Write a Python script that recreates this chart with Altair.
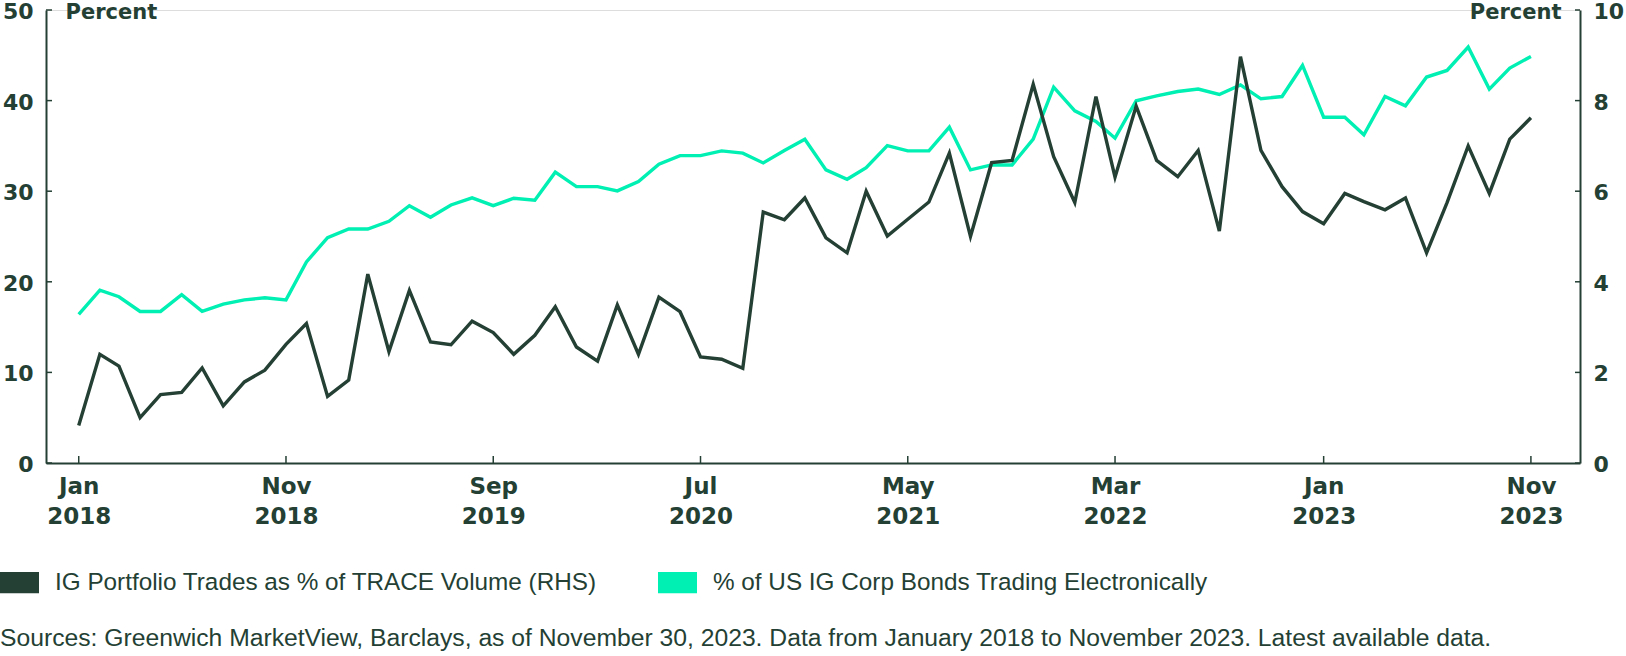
import altair as alt
import pandas as pd

months = pd.date_range("2018-01-01", periods=71, freq="MS").strftime("%Y-%m-%d").tolist()

electronic_pct = [
    16.4, 19.07, 18.35, 16.73, 16.73, 18.57, 16.73, 17.54, 18.0, 18.24,
    18.0, 22.2, 24.87, 25.83, 25.83, 26.68, 28.4, 27.12, 28.48, 29.26,
    28.4, 29.22, 29.0, 32.1, 30.5, 30.5, 30.03, 31.06, 32.98, 33.93,
    33.93, 34.45, 34.2, 33.12, 34.49, 35.74, 32.35, 31.32, 32.6, 35.04,
    34.45, 34.45, 37.07, 32.35, 32.9, 32.9, 35.74, 41.49, 38.87, 37.69,
    35.85, 39.98, 40.53, 41.0, 41.27, 40.68, 41.74, 40.2, 40.45, 43.88,
    38.17, 38.17, 36.22, 40.45, 39.42, 42.6, 43.33, 45.91, 41.27, 43.59,
    44.87,
]

portfolio_pct = [
    0.83, 2.4, 2.14, 1.0, 1.51, 1.56, 2.1, 1.26, 1.79, 2.05,
    2.62, 3.08, 1.47, 1.83, 4.17, 2.46, 3.81, 2.67, 2.61, 3.13,
    2.88, 2.4, 2.82, 3.45, 2.56, 2.25, 3.49, 2.4, 3.66, 3.34,
    2.34, 2.29, 2.09, 5.54, 5.37, 5.85, 4.97, 4.64, 6.0, 5.01,
    5.38, 5.76, 6.84, 5.0, 6.63, 6.68, 8.36, 6.76, 5.75, 8.09,
    6.31, 7.88, 6.68, 6.32, 6.9, 5.12, 8.97, 6.9, 6.1, 5.55,
    5.28, 5.95, 5.77, 5.59, 5.85, 4.64, 5.75, 7.0, 5.95, 7.15,
    7.62,
]

tick_dates = ["2018-01-01", "2018-11-01", "2019-09-01", "2020-07-01",
              "2021-05-01", "2022-03-01", "2023-01-01", "2023-11-01"]
left_ticks = [0, 10, 20, 30, 40, 50]
right_ticks = [0, 2, 4, 6, 8, 10]

series_names = ["IG Portfolio Trades as % of TRACE Volume (RHS)",
                "% of US IG Corp Bonds Trading Electronically"]
series_colors = ["#243F34", "#00EFB2"]

source_text = ("Sources: Greenwich MarketView, Barclays, as of November 30, 2023. "
               "Data from January 2018 to November 2023. Latest available data.")

DARK = "#243F34"
W, H = 1534, 453
BOLD = "DejaVu Sans"
REG = "Liberation Sans"


def ms(s):
    return int(pd.Timestamp(s, tz="UTC").value // 10**6)


df = pd.DataFrame({"date": months, "elec": electronic_pct, "port": portfolio_pct})
ticks_x_df = pd.DataFrame({"date": tick_dates})
ticks_l_df = pd.DataFrame({"v": left_ticks})
ticks_r_df = pd.DataFrame({"v": right_ticks})
legend_df = pd.DataFrame({"series": series_names, "date": [months[0], months[0]]})
note_df = pd.DataFrame({"note": [source_text]})

x_scale = alt.Scale(type="utc", domain=[ms("2017-11-14"), ms("2024-01-12")])
x_axis = alt.Axis(
    values=[ms(d) for d in tick_dates],
    labelExpr="[utcFormat(datum.value, '%b'), utcFormat(datum.value, '%Y')]",
    title=None, grid=False, ticks=False, tickSize=0,
    domainColor=DARK, domainWidth=2,
    labelFont=BOLD, labelFontWeight="bold", labelFontSize=23, labelColor=DARK,
    labelPadding=12, labelLineHeight=30, labelAlign="center", labelBaseline="top",
    labelOverlap=False, labelFlush=False,
)


def y_axis(orient, values, title_x, title_align):
    return alt.Axis(orient=orient, values=values, grid=False, ticks=False, tickSize=0,
                    domainColor=DARK, domainWidth=2,
                    labelFont=BOLD, labelFontWeight="bold", labelFontSize=22,
                    labelColor=DARK, labelPadding=13, labelOverlap=False, labelFlush=False,
                    labelOffset=1.5,
                    title="Percent", titleAngle=0, titleX=title_x, titleY=2,
                    titleAlign=title_align, titleBaseline="middle",
                    titleFont=BOLD, titleFontWeight="bold", titleFontSize=21,
                    titleColor=DARK)


green = alt.Chart(df).mark_line(strokeWidth=3.4, color=series_colors[1]).encode(
    x=alt.X("date:T", scale=x_scale, axis=x_axis),
    y=alt.Y("elec:Q", scale=alt.Scale(domain=[0, 50], nice=False),
            axis=y_axis("left", left_ticks, 19, "left")),
)

dark = alt.Chart(df).mark_line(strokeWidth=3.4, color=series_colors[0]).encode(
    x=alt.X("date:T", scale=x_scale),
    y=alt.Y("port:Q", scale=alt.Scale(domain=[0, 10], nice=False),
            axis=y_axis("right", right_ticks, -19, "right")),
)

xticks = alt.Chart(ticks_x_df).mark_rule(color=DARK, strokeWidth=1.5).encode(
    x=alt.X("date:T", scale=x_scale),
    y=alt.value(H - 7), y2=alt.value(H),
)
lticks = alt.Chart(ticks_l_df).mark_rule(color=DARK, strokeWidth=1.5).encode(
    y=alt.Y("v:Q", scale=alt.Scale(domain=[0, 50], nice=False), axis=None),
    x=alt.value(0), x2=alt.value(6),
)
rticks = alt.Chart(ticks_r_df).mark_rule(color=DARK, strokeWidth=1.5).encode(
    y=alt.Y("v:Q", scale=alt.Scale(domain=[0, 10], nice=False), axis=None),
    x=alt.value(W - 5), x2=alt.value(W),
)

legend_layer = alt.Chart(legend_df).mark_rect(opacity=1).encode(
    x=alt.X("date:T", scale=x_scale),
    y=alt.value(0), y2=alt.value(0),
    color=alt.Color("series:N",
                    scale=alt.Scale(domain=series_names, range=series_colors),
                    legend=alt.Legend(
                        orient="none", legendX=-46, legendY=553, direction="horizontal",
                        title=None, symbolType="M-1,-0.54H1V0.54H-1Z", symbolSize=1521,
                        symbolStrokeWidth=0, symbolOpacity=1,
                        labelFont=REG, labelFontSize=24.3, labelColor=DARK,
                        labelOffset=16, columnPadding=61, padding=0, labelLimit=1000,
                    )),
).transform_filter("false")

note = alt.Chart(note_df).mark_text(
    align="left", baseline="middle", font=REG, fontSize=24.7, color=DARK,
).encode(
    text="note:N",
    x=alt.value(-46), y=alt.value(629),
)

chart = alt.layer(green, dark, xticks, lticks, rticks, legend_layer, note).resolve_scale(
    y="independent"
).properties(
    width=W, height=H,
    padding={"left": 46, "top": 10, "right": 46, "bottom": 193},
    autosize=alt.AutoSizeParams(type="none"),
).configure_view(stroke=None).configure(background="white")

chart.save("out.html", embed_options={"renderer": "svg", "actions": False})
